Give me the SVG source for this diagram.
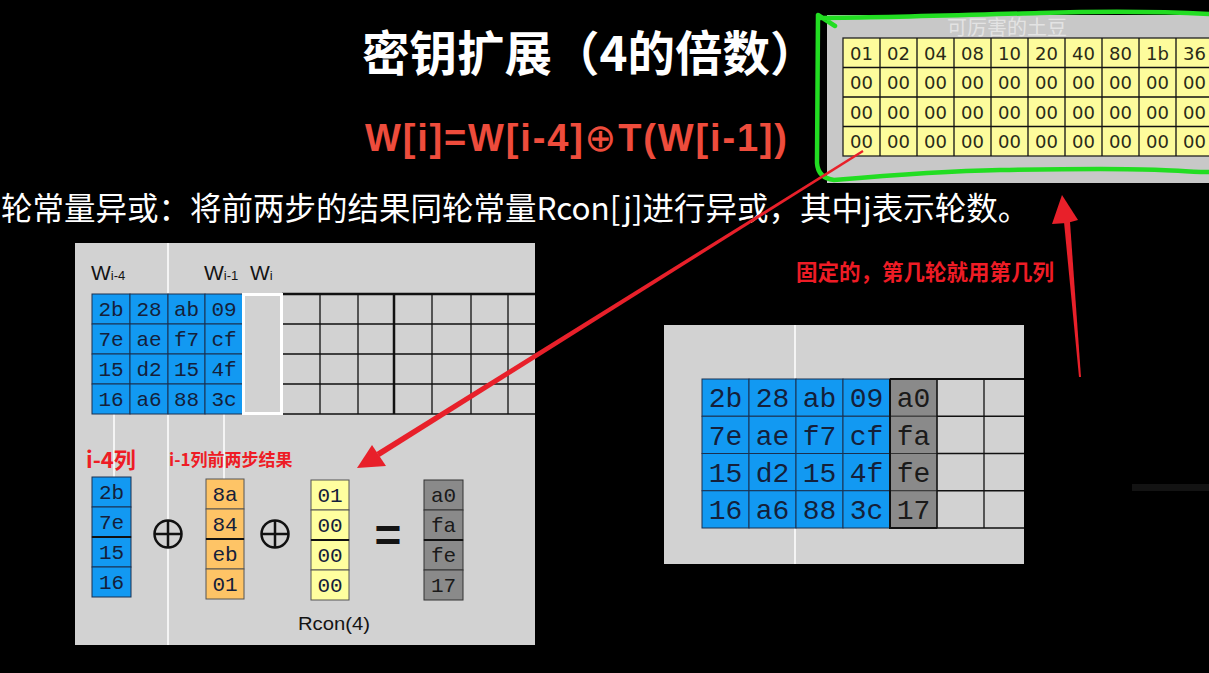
<svg xmlns="http://www.w3.org/2000/svg" width="1209" height="673" viewBox="0 0 1209 673">
<defs>
<style>
.cjk{font-family:"Noto Sans CJK SC","Liberation Sans",sans-serif}
.title{fill:#ffffff;font-size:47.5px;font-weight:bold}
.formula{fill:#ee4c3c;font-family:"Liberation Sans",sans-serif;font-size:38px;font-weight:bold}
.sub{fill:#ffffff;font-size:31.5px}
.note{fill:#ee1c25;font-weight:bold}
.panel{fill:#d2d2d2}
.wl{stroke:#ffffff;stroke-width:1.5}
.grid{stroke:#111;stroke-width:1.3;fill:none}
.blue{fill:#1299f2;stroke:#1a3050;stroke-width:1}
.gray{fill:#8a8a8a;stroke:#333;stroke-width:1}
.orange{fill:#fec466;stroke:#555;stroke-width:1}
.yel{fill:#ffff9f;stroke:#555;stroke-width:1}
.tyel{fill:#fdfc9c;stroke:#222;stroke-width:1.3}
.m{font-family:"Liberation Mono","DejaVu Sans Mono",monospace;fill:#14203a;text-anchor:middle}
.m21{font-size:21px}
.m28{font-size:28px}
.t18{font-family:"DejaVu Sans",sans-serif;font-size:18px;fill:#2a2a18;text-anchor:middle}
.lab{font-family:"Liberation Sans",sans-serif;fill:#141414}
.arrow{fill:#e8202a}
</style>
</defs>
<rect x="0" y="0" width="1209" height="673" fill="#000"/>
<rect x="1132" y="484" width="77" height="7" fill="#131313"/>

<g id="title">
<text class="cjk title" x="362" y="71">密钥扩展（4的倍数）</text>
</g>
<g id="formula">
<text class="formula" x="365" y="151" textLength="422" lengthAdjust="spacing">W[i]=W[i-4]<tspan font-weight="normal" font-family="DejaVu Sans,sans-serif">⊕</tspan>T(W[i-1])</text>
</g>
<g id="subtitle">
<text class="cjk sub" x="1" y="220">轮常量异或：将前两步的结果同轮常量Rcon[j]进行异或，其中j表示轮数。</text>
</g>

<g id="rcon-table">
<rect x="827" y="15" width="382" height="168" fill="#c8c8c8"/>
<text class="cjk" x="947" y="35" font-size="20" fill="#ffffff" fill-opacity="0.5">可厉害的土豆</text>
<g>
<rect class="tyel" x="843" y="38" width="370" height="118"/>
<path class="grid" d="M843 67.5H1209M843 97H1209M843 126.5H1209M880 38V156M917 38V156M954 38V156M991 38V156M1028 38V156M1065 38V156M1102 38V156M1139 38V156M1176 38V156"/>
</g>
<g class="t18">
<text x="861.5" y="59.5">01</text><text x="898.5" y="59.5">02</text><text x="935.5" y="59.5">04</text><text x="972.5" y="59.5">08</text><text x="1009.5" y="59.5">10</text><text x="1046.5" y="59.5">20</text><text x="1083.5" y="59.5">40</text><text x="1120.5" y="59.5">80</text><text x="1157.5" y="59.5">1b</text><text x="1194.5" y="59.5">36</text>
<text x="861.5" y="89">00</text><text x="898.5" y="89">00</text><text x="935.5" y="89">00</text><text x="972.5" y="89">00</text><text x="1009.5" y="89">00</text><text x="1046.5" y="89">00</text><text x="1083.5" y="89">00</text><text x="1120.5" y="89">00</text><text x="1157.5" y="89">00</text><text x="1194.5" y="89">00</text>
<text x="861.5" y="118.5">00</text><text x="898.5" y="118.5">00</text><text x="935.5" y="118.5">00</text><text x="972.5" y="118.5">00</text><text x="1009.5" y="118.5">00</text><text x="1046.5" y="118.5">00</text><text x="1083.5" y="118.5">00</text><text x="1120.5" y="118.5">00</text><text x="1157.5" y="118.5">00</text><text x="1194.5" y="118.5">00</text>
<text x="861.5" y="148">00</text><text x="898.5" y="148">00</text><text x="935.5" y="148">00</text><text x="972.5" y="148">00</text><text x="1009.5" y="148">00</text><text x="1046.5" y="148">00</text><text x="1083.5" y="148">00</text><text x="1120.5" y="148">00</text><text x="1157.5" y="148">00</text><text x="1194.5" y="148">00</text>
</g>
<path d="M835 26L818 15L817 163Q818 178 834 180C880 176 940 171 1000 170C1060 169 1120 168 1160 170C1185 171 1200 172 1209 172M818 18C880 18 960 15 1040 13C1110 11 1170 12 1209 14" fill="none" stroke="#22dd22" stroke-width="4.5" stroke-linecap="round" stroke-linejoin="round"/>
</g>

<g id="left-panel">
<rect class="panel" x="75" y="243" width="460" height="402"/>
<line class="wl" x1="168" y1="243" x2="168" y2="645"/>
<line class="wl" x1="114" y1="414" x2="114" y2="477"/>
<line class="wl" x1="224" y1="414" x2="224" y2="479"/>
<g class="lab">
<text x="91" y="280" font-size="21">W<tspan font-size="13">i-4</tspan></text>
<text x="204" y="280" font-size="21">W<tspan font-size="13">i-1</tspan></text>
<text x="250" y="280" font-size="21">W<tspan font-size="13">i</tspan></text>
</g>
<g id="state-matrix">
<rect class="blue" x="92" y="294" width="38" height="30"/><rect class="blue" x="130" y="294" width="38" height="30"/><rect class="blue" x="168" y="294" width="37" height="30"/><rect class="blue" x="205" y="294" width="38" height="30"/>
<rect class="blue" x="92" y="324" width="38" height="30"/><rect class="blue" x="130" y="324" width="38" height="30"/><rect class="blue" x="168" y="324" width="37" height="30"/><rect class="blue" x="205" y="324" width="38" height="30"/>
<rect class="blue" x="92" y="354" width="38" height="30"/><rect class="blue" x="130" y="354" width="38" height="30"/><rect class="blue" x="168" y="354" width="37" height="30"/><rect class="blue" x="205" y="354" width="38" height="30"/>
<rect class="blue" x="92" y="384" width="38" height="30"/><rect class="blue" x="130" y="384" width="38" height="30"/><rect class="blue" x="168" y="384" width="37" height="30"/><rect class="blue" x="205" y="384" width="38" height="30"/>
<g class="m m21">
<text x="111" y="316">2b</text><text x="149" y="316">28</text><text x="186.5" y="316">ab</text><text x="224" y="316">09</text>
<text x="111" y="346">7e</text><text x="149" y="346">ae</text><text x="186.5" y="346">f7</text><text x="224" y="346">cf</text>
<text x="111" y="376">15</text><text x="149" y="376">d2</text><text x="186.5" y="376">15</text><text x="224" y="376">4f</text>
<text x="111" y="406">16</text><text x="149" y="406">a6</text><text x="186.5" y="406">88</text><text x="224" y="406">3c</text>
</g>
<path class="grid" d="M282 294H535M282 324H535M282 354H535M282 384H535M243 414H535M320 294V414M358 294V414M432 294V414M471 294V414M508 294V414"/>
<path d="M394 294V414M282 294H535" stroke="#111" stroke-width="2.5"/>
<rect x="243.5" y="294.5" width="38" height="119" fill="none" stroke="#ffffff" stroke-width="3"/>
</g>
<g id="xor-step">
<text class="cjk note" x="86" y="468" font-size="22">i-4列</text>
<text class="cjk note" x="169" y="466" font-size="17">i-1列前两步结果</text>
<rect class="blue" x="92" y="477" width="39" height="30"/><rect class="blue" x="92" y="507" width="39" height="30"/><rect class="blue" x="92" y="537" width="39" height="30"/><rect class="blue" x="92" y="567" width="39" height="30"/>
<rect class="orange" x="206" y="479" width="38" height="30"/><rect class="orange" x="206" y="509" width="38" height="30"/><rect class="orange" x="206" y="539" width="38" height="30"/><rect class="orange" x="206" y="569" width="38" height="30"/>
<rect class="yel" x="311" y="480" width="38" height="30"/><rect class="yel" x="311" y="510" width="38" height="30"/><rect class="yel" x="311" y="540" width="38" height="30"/><rect class="yel" x="311" y="570" width="38" height="30"/>
<rect class="gray" x="424" y="480" width="39" height="30"/><rect class="gray" x="424" y="510" width="39" height="30"/><rect class="gray" x="424" y="540" width="39" height="30"/><rect class="gray" x="424" y="570" width="39" height="30"/>
<path d="M92 537H131M206 539H244M311 540H349M424 540H463" stroke="#111" stroke-width="2"/>
<g class="m m21">
<text x="111.5" y="499">2b</text><text x="111.5" y="529">7e</text><text x="111.5" y="559">15</text><text x="111.5" y="589">16</text>
<text x="225" y="501">8a</text><text x="225" y="531">84</text><text x="225" y="561">eb</text><text x="225" y="591">01</text>
<text x="330" y="502">01</text><text x="330" y="532">00</text><text x="330" y="562">00</text><text x="330" y="592">00</text>
<text x="443.5" y="502" fill="#1a1a1a">a0</text><text x="443.5" y="532" fill="#1a1a1a">fa</text><text x="443.5" y="562" fill="#1a1a1a">fe</text><text x="443.5" y="592" fill="#1a1a1a">17</text>
</g>
<g fill="none" stroke="#111" stroke-width="2.5">
<circle cx="168" cy="534" r="13.5"/><path d="M154.5 534H181.5M168 520.5V547.5"/>
<circle cx="275" cy="534" r="13.5"/><path d="M261.5 534H288.5M275 520.5V547.5"/>
</g>
<text class="lab" x="388" y="551" font-size="46" font-weight="bold" text-anchor="middle">=</text>
<text class="lab" x="298" y="630" font-size="19" textLength="72" lengthAdjust="spacingAndGlyphs">Rcon(4)</text>
</g>
</g>

<g id="right-panel">
<rect class="panel" x="664" y="325" width="360" height="239"/>
<line class="wl" x1="795" y1="325" x2="795" y2="564"/>
<rect class="blue" x="702" y="379" width="47" height="37.25"/><rect class="blue" x="749" y="379" width="47" height="37.25"/><rect class="blue" x="796" y="379" width="47" height="37.25"/><rect class="blue" x="843" y="379" width="47" height="37.25"/>
<rect class="blue" x="702" y="416.25" width="47" height="37.25"/><rect class="blue" x="749" y="416.25" width="47" height="37.25"/><rect class="blue" x="796" y="416.25" width="47" height="37.25"/><rect class="blue" x="843" y="416.25" width="47" height="37.25"/>
<rect class="blue" x="702" y="453.5" width="47" height="37.25"/><rect class="blue" x="749" y="453.5" width="47" height="37.25"/><rect class="blue" x="796" y="453.5" width="47" height="37.25"/><rect class="blue" x="843" y="453.5" width="47" height="37.25"/>
<rect class="blue" x="702" y="490.75" width="47" height="37.25"/><rect class="blue" x="749" y="490.75" width="47" height="37.25"/><rect class="blue" x="796" y="490.75" width="47" height="37.25"/><rect class="blue" x="843" y="490.75" width="47" height="37.25"/>
<rect class="gray" x="890" y="379" width="47" height="37.25"/><rect class="gray" x="890" y="416.25" width="47" height="37.25"/><rect class="gray" x="890" y="453.5" width="47" height="37.25"/><rect class="gray" x="890" y="490.75" width="47" height="37.25"/>
<path class="grid" d="M937 379H1024M937 416.25H1024M937 453.5H1024M937 490.75H1024M890 528H1024M937 379V528M984 379V528"/>
<path d="M890 379V528H937M890 379H1024" fill="none" stroke="#111" stroke-width="2"/>
<g class="m m28">
<text x="725.5" y="407">2b</text><text x="772.5" y="407">28</text><text x="819.5" y="407">ab</text><text x="866.5" y="407">09</text><text x="913.5" y="407" fill="#1a1a1a">a0</text>
<text x="725.5" y="444.5">7e</text><text x="772.5" y="444.5">ae</text><text x="819.5" y="444.5">f7</text><text x="866.5" y="444.5">cf</text><text x="913.5" y="444.5" fill="#1a1a1a">fa</text>
<text x="725.5" y="481.5">15</text><text x="772.5" y="481.5">d2</text><text x="819.5" y="481.5">15</text><text x="866.5" y="481.5">4f</text><text x="913.5" y="481.5" fill="#1a1a1a">fe</text>
<text x="725.5" y="519">16</text><text x="772.5" y="519">a6</text><text x="819.5" y="519">88</text><text x="866.5" y="519">3c</text><text x="913.5" y="519" fill="#1a1a1a">17</text>
</g>
</g>

<g id="note-label">
<text class="cjk note" x="796" y="280" font-size="21.5">固定的，第几轮就用第几列</text>
</g>

<g id="connectors">
<polygon class="arrow" points="863.6,152 862.4,150 376.5,452 379.5,457"/>
<polygon class="arrow" points="357,468 372,445 378,454 386,466"/>
<polygon class="arrow" points="1064,222 1070,222 1081,377 1079,377"/>
<polygon class="arrow" points="1062,195 1078,220 1067,223 1052,224"/>
</g>
</svg>
